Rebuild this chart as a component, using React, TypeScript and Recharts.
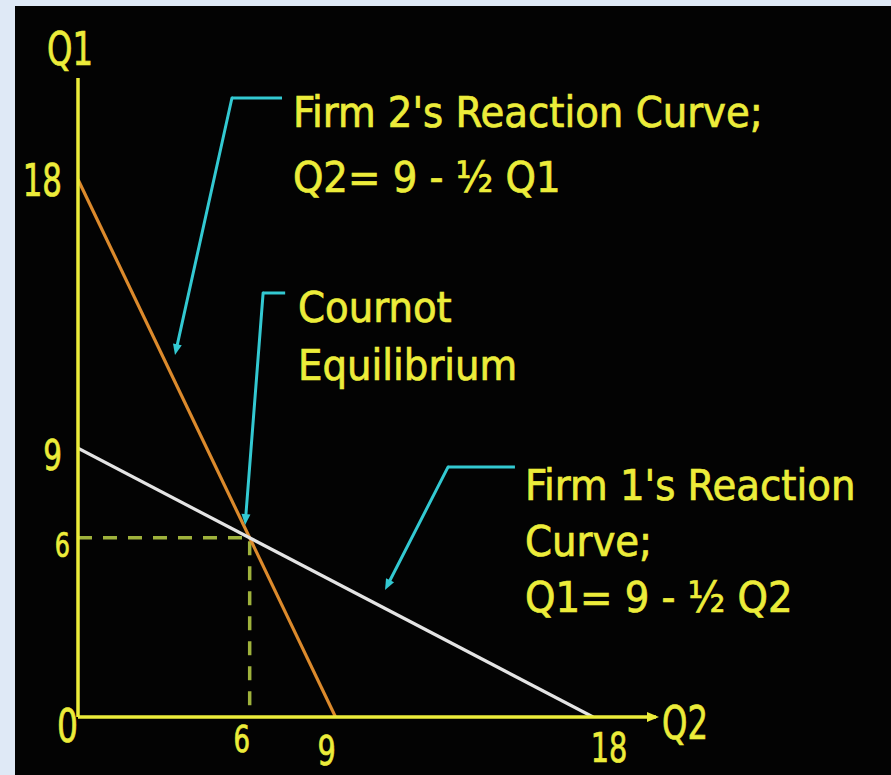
import React from 'react';
import { LineChart, Line, XAxis, YAxis, ReferenceLine, ReferenceDot } from 'recharts';

// Reaction curves, Q1 on the vertical axis and Q2 on the horizontal one
const firm2Curve = [
  { q2: 0, q1: 18 },
  { q2: 9, q1: 0 },
];
const firm1Curve = [
  { q2: 0, q1: 9 },
  { q2: 18, q1: 0 },
];
// guides down to the Cournot point (6, 6)
const equilibriumGuide = [
  { q2: 0, q1: 6 },
  { q2: 6, q1: 6 },
  { q2: 6, q1: 0 },
];

const xTicks = [6, 9, 18];
const yTicks = [0, 6, 9, 18];

const X_MAX = 20.2;
const Y_MAX = 21.4;

const YELLOW = '#ecec3a';
const CYAN = '#33c9d2';
const ORANGE = '#dc8a2c';
const WHITE = '#e4e4e4';
const GUIDE = '#9fb23c';
const FONT = '"DejaVu Sans Condensed", "DejaVu Sans", sans-serif';
// the hand-lettered numbers are narrower than the font
const SQUEEZE = 0.78;

// per-label tweaks for the tick numbers
const xTickStyle: Record<number, { size: number; dx: number; dy: number }> = {
  6: { size: 37, dx: -8, dy: 35 },
  9: { size: 41, dx: -9, dy: 48 },
  18: { size: 41, dx: 16, dy: 45 },
};
const yTickStyle: Record<number, { size: number; dx: number; dy: number }> = {
  0: { size: 47, dx: 0, dy: 25 },
  6: { size: 34, dx: -8, dy: 19 },
  9: { size: 42, dx: -16, dy: 22 },
  18: { size: 44, dx: -16, dy: 16 },
};

// callouts: text anchor and the cyan pointer (stub + arrow), in chart units
const notes = [
  {
    at: { q2: 7.51, q1: 19.76 },
    lines: ["Firm 2's Reaction Curve;", 'Q2= 9 - ½ Q1'],
    gap: 65,
    stub: [{ q2: 7.13, q1: 20.73 }, { q2: 5.38, q1: 20.73 }],
    arrow: [{ q2: 5.38, q1: 20.73 }, { q2: 3.39, q1: 12.12 }],
  },
  {
    at: { q2: 7.69, q1: 13.23 },
    lines: ['Cournot', 'Equilibrium'],
    gap: 58,
    stub: [{ q2: 7.24, q1: 14.2 }, { q2: 6.47, q1: 14.2 }],
    arrow: [{ q2: 6.47, q1: 14.2 }, { q2: 5.84, q1: 6.43 }],
  },
  {
    at: { q2: 15.62, q1: 7.27 },
    lines: ["Firm 1's Reaction", 'Curve;', 'Q1= 9 - ½ Q2'],
    gap: 56,
    stub: [{ q2: 15.27, q1: 8.37 }, { q2: 12.93, q1: 8.37 }],
    arrow: [{ q2: 12.93, q1: 8.37 }, { q2: 10.73, q1: 4.25 }],
  },
];

const Narrow = ({ x, y, size, anchor = 'start', children }: any) => (
  <text
    transform={`translate(${x},${y}) scale(${SQUEEZE},1)`}
    textAnchor={anchor}
    fill={YELLOW}
    stroke={YELLOW}
    strokeWidth={0.7}
    fontSize={size}
    fontFamily={FONT}
  >
    {children}
  </text>
);

const XTick = ({ x, y, payload }: any) => {
  const s = xTickStyle[payload.value] || { size: 38, dx: 0, dy: 40 };
  return (
    <Narrow x={x + s.dx} y={y + s.dy} size={s.size} anchor="middle">
      {payload.value}
    </Narrow>
  );
};

const YTick = ({ x, y, payload }: any) => {
  const s = yTickStyle[payload.value] || { size: 40, dx: -16, dy: 16 };
  return (
    <Narrow x={x + s.dx} y={y + s.dy} size={s.size} anchor="end">
      {payload.value}
    </Narrow>
  );
};

const arrowShape = (props: any) => {
  const { x1, y1, x2, y2 } = props;
  const ang = Math.atan2(y2 - y1, x2 - x1);
  const len = 11;
  const half = 4.5;
  const bx = x2 - len * Math.cos(ang);
  const by = y2 - len * Math.sin(ang);
  const px = -Math.sin(ang) * half;
  const py = Math.cos(ang) * half;
  return (
    <g>
      <line x1={x1} y1={y1} x2={bx} y2={by} stroke={CYAN} strokeWidth={3} strokeLinecap="round" />
      <path d={`M${x2},${y2}L${bx + px},${by + py}L${bx - px},${by - py}Z`} fill={CYAN} />
    </g>
  );
};

const noteText = (lines: string[], gap: number) => (props: any) => (
  <text
    x={props.cx}
    y={props.cy}
    fill={YELLOW}
    stroke={YELLOW}
    strokeWidth={0.7}
    fontSize={43}
    fontFamily={FONT}
  >
    {lines.map((t, i) => (
      <tspan key={i} x={props.cx} dy={i === 0 ? 0 : gap}>
        {t}
      </tspan>
    ))}
  </text>
);

const axisEnd = (props: any) => {
  const { cx, cy } = props;
  return (
    <g>
      <path d={`M${cx + 3},${cy}L${cx - 9},${cy - 5}L${cx - 9},${cy + 5}Z`} fill={YELLOW} />
      <Narrow x={cx + 6} y={cy + 22} size={46}>
        Q2
      </Narrow>
    </g>
  );
};

const axisTop = (props: any) => (
  <Narrow x={props.cx - 31} y={props.cy - 13} size={46}>
    Q1
  </Narrow>
);

export default function App() {
  return (
    <div style={{ position: 'absolute', left: 0, top: 0, width: 891, height: 775, background: '#dfe9f6' }}>
      <div style={{ position: 'absolute', left: 15, top: 6, right: 0, bottom: 0, background: '#030303' }} />
      <div style={{ position: 'absolute', left: 0, top: 0 }}>
        <LineChart width={891} height={775} margin={{ top: 78, right: 235, bottom: 8, left: 18 }}>
          <XAxis
            type="number"
            dataKey="q2"
            domain={[0, X_MAX]}
            allowDataOverflow
            ticks={xTicks}
            tick={XTick}
            tickLine={false}
            tickSize={0}
            tickMargin={0}
            height={50}
            axisLine={{ stroke: YELLOW, strokeWidth: 3.5 }}
          />
          <YAxis
            type="number"
            dataKey="q1"
            domain={[0, Y_MAX]}
            allowDataOverflow
            ticks={yTicks}
            tick={YTick}
            tickLine={false}
            tickSize={0}
            tickMargin={0}
            width={60}
            axisLine={{ stroke: YELLOW, strokeWidth: 3.5 }}
          />
          <Line
            data={equilibriumGuide}
            dataKey="q1"
            stroke={GUIDE}
            strokeWidth={3.5}
            strokeDasharray="14 11"
            dot={false}
            isAnimationActive={false}
          />
          <Line data={firm2Curve} dataKey="q1" stroke={ORANGE} strokeWidth={3.2} dot={false} isAnimationActive={false} />
          <Line data={firm1Curve} dataKey="q1" stroke={WHITE} strokeWidth={3.2} dot={false} isAnimationActive={false} />
          {notes.map((n, i) => (
            <ReferenceLine
              key={`stub-${i}`}
              segment={[{ x: n.stub[0].q2, y: n.stub[0].q1 }, { x: n.stub[1].q2, y: n.stub[1].q1 }]}
              stroke={CYAN}
              strokeWidth={3}
              ifOverflow="visible"
            />
          ))}
          {notes.map((n, i) => (
            <ReferenceLine
              key={`arrow-${i}`}
              segment={[{ x: n.arrow[0].q2, y: n.arrow[0].q1 }, { x: n.arrow[1].q2, y: n.arrow[1].q1 }]}
              shape={arrowShape}
              ifOverflow="visible"
            />
          ))}
          {notes.map((n, i) => (
            <ReferenceDot key={`note-${i}`} x={n.at.q2} y={n.at.q1} r={0} shape={noteText(n.lines, n.gap)} ifOverflow="visible" />
          ))}
          <ReferenceDot x={X_MAX} y={0} r={0} shape={axisEnd} ifOverflow="visible" />
          <ReferenceDot x={0} y={Y_MAX} r={0} shape={axisTop} ifOverflow="visible" />
        </LineChart>
      </div>
    </div>
  );
}
